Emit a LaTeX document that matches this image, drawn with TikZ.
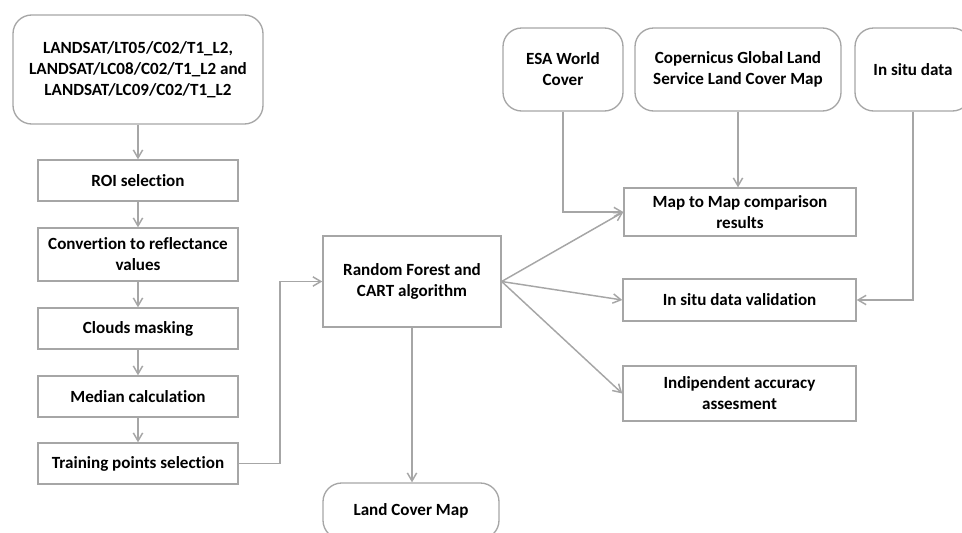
\documentclass[tikz,border=0pt]{standalone}
\usepackage{fontspec}
\setmainfont{Carlito}[Ligatures=NoCommon]
\usetikzlibrary{arrows.meta,calc}
\definecolor{ink}{RGB}{0,0,0}
\definecolor{edge}{RGB}{166,166,166}
\newdimen\px
\px=0.75pt
\begin{document}
\begin{tikzpicture}[
  x=0.75pt, y=-0.75pt,
  font=\bfseries\fontsize{12.8}{15.75}\selectfont, >={Straight Barb[length=6pt,width=7pt]},
  stepbox/.style={draw=edge, fill=white, line width=1pt, align=center, text=ink, inner sep=2pt},
  source/.style={stepbox, rounded corners=14pt},
  flow/.style={->, line width=1.1pt, draw=edge},
]
\useasboundingbox (0,0) rectangle (962,532);
\begin{scope}
\clip (0,0) rectangle (962,532);
% ---------------------------------------------------------------- left column
\node[source, minimum width=250\px, minimum height=109\px] (src) at (138,69.5)
  {LANDSAT/LT05/C02/T1\_L2,\\LANDSAT/LC08/C02/T1\_L2 and\\LANDSAT/LC09/C02/T1\_L2};
\node[stepbox, minimum width=200\px, minimum height=41\px] (roi) at (138,180.5) {ROI selection};
\node[stepbox, minimum width=200\px, minimum height=53\px] (conv) at (138,254.5) {Convertion to reflectance\\values};
\node[stepbox, minimum width=200\px, minimum height=41\px] (cloud) at (138,328.5) {Clouds masking};
\node[stepbox, minimum width=200\px, minimum height=41\px] (median) at (138,396.5) {Median calculation};
\node[stepbox, minimum width=200\px, minimum height=41\px] (train) at (138,463.5) {Training points selection};

% ---------------------------------------------------------------- classifier
\node[stepbox, minimum width=178\px, minimum height=91\px] (rf) at (412,281.5) {Random Forest and\\CART algorithm};
\node[source, minimum width=176\px, minimum height=56\px] (lcm) at (411,511) {Land Cover Map};

% ---------------------------------------------------------------- reference data
\node[source, minimum width=120\px, minimum height=83\px] (esa) at (563,69.5) {ESA World\\Cover};
\node[source, minimum width=206\px, minimum height=83\px] (cop) at (738,69.5) {Copernicus Global Land\\Service Land Cover Map};
\node[source, minimum width=116\px, minimum height=83\px] (insitu) at (913,69.5) {In situ data};

% ---------------------------------------------------------------- validation
\node[stepbox, minimum width=232\px, minimum height=48\px] (m2m) at (740,212) {Map to Map comparison\\results};
\node[stepbox, minimum width=233\px, minimum height=42\px] (val) at (739.5,300) {In situ data validation};
\node[stepbox, minimum width=233\px, minimum height=55\px] (ind) at (739.5,393.5) {Indipendent accuracy\\assesment};

% ---------------------------------------------------------------- edges
\draw[flow] (src) -- (roi);
\draw[flow] (roi) -- (conv);
\draw[flow] (conv) -- (cloud);
\draw[flow] (cloud) -- (median);
\draw[flow] (median) -- (train);
\coordinate (bend) at (280,463.5);
\draw[flow] (train.east) -- (bend) |- (rf.west);
\draw[flow] (rf.east) -- (m2m.west);
\draw[flow] (rf.east) -- (val.west);
\draw[flow] (rf.east) -- (ind.west);
\draw[flow] (rf.south) -- (rf.south |- lcm.north);
\draw[flow] (esa.south) |- (m2m.west);
\draw[flow] (cop.south) -- (cop.south |- m2m.north);
\draw[flow] (insitu.south) |- (val.east);
\end{scope}
\end{tikzpicture}
\end{document}
